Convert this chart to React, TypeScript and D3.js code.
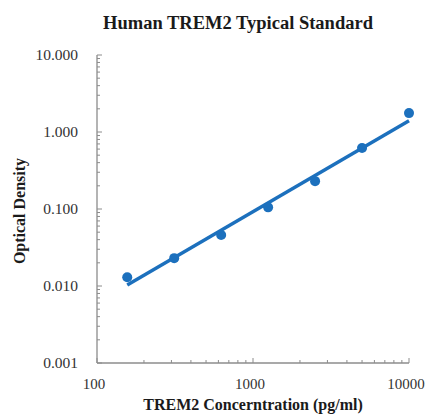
import { useEffect, useRef } from "react";
import * as d3 from "d3";

const CONCENTRATIONS = [156.25, 312.5, 625, 1250, 2500, 5000, 10000];
const OD_VALUES = [0.013, 0.023, 0.046, 0.105, 0.23, 0.62, 1.76];
const Y_TICKS = [0.001, 0.01, 0.1, 1, 10];
const X_TICKS = [100, 1000, 10000];

const BLUE = "#1c70bd";
const AXIS = "#8c8c8c";
const SERIF = "'Liberation Serif', 'Times New Roman', serif";

export default function App() {
  const svgRef = useRef<SVGSVGElement>(null);

  useEffect(() => {
    if (!svgRef.current) return;
    const width = 427;
    const height = 414;
    const margin = { top: 55, right: 18, bottom: 51, left: 97 };
    const innerW = width - margin.left - margin.right;
    const innerH = height - margin.top - margin.bottom;

    const svg = d3.select(svgRef.current);
    svg.selectAll("*").remove();

    const x = d3.scaleLog().domain([100, 10000]).range([0, innerW]);
    const y = d3.scaleLog().domain([0.001, 10]).range([innerH, 0]);

    const g = svg.append("g").attr("transform", `translate(${margin.left},${margin.top})`);

    // power trendline from log-log least squares
    const lx = CONCENTRATIONS.map(Math.log10);
    const ly = OD_VALUES.map(Math.log10);
    const mx = d3.mean(lx)!;
    const my = d3.mean(ly)!;
    const slope =
      d3.sum(lx, (v, i) => (v - mx) * (ly[i] - my)) / d3.sum(lx, (v) => (v - mx) ** 2);
    const fit = (c: number) => Math.pow(10, my + slope * (Math.log10(c) - mx));

    // minor ticks
    const yMinor: number[] = [];
    for (let e = -3; e < 1; e++) for (let k = 2; k <= 9; k++) yMinor.push(k * 10 ** e);
    const xMinor: number[] = [];
    for (let e = 2; e < 4; e++) for (let k = 2; k <= 9; k++) xMinor.push(k * 10 ** e);

    g.selectAll("line.ymin")
      .data(yMinor)
      .enter()
      .append("line")
      .attr("x1", 0)
      .attr("x2", 3)
      .attr("y1", (d) => y(d))
      .attr("y2", (d) => y(d))
      .attr("stroke", AXIS)
      .attr("stroke-width", 1);
    g.selectAll("line.ymaj")
      .data(Y_TICKS)
      .enter()
      .append("line")
      .attr("x1", 0)
      .attr("x2", 5)
      .attr("y1", (d) => y(d))
      .attr("y2", (d) => y(d))
      .attr("stroke", AXIS);
    g.selectAll("line.xmin")
      .data(xMinor)
      .enter()
      .append("line")
      .attr("x1", (d) => x(d))
      .attr("x2", (d) => x(d))
      .attr("y1", innerH)
      .attr("y2", innerH - 3)
      .attr("stroke", AXIS);
    g.selectAll("line.xmaj")
      .data(X_TICKS)
      .enter()
      .append("line")
      .attr("x1", (d) => x(d))
      .attr("x2", (d) => x(d))
      .attr("y1", innerH)
      .attr("y2", innerH - 5)
      .attr("stroke", AXIS);

    // axis lines
    g.append("line").attr("x1", 0).attr("x2", 0).attr("y1", 0).attr("y2", innerH).attr("stroke", AXIS).attr("stroke-width", 1.3);
    g.append("line").attr("x1", 0).attr("x2", innerW).attr("y1", innerH).attr("y2", innerH).attr("stroke", AXIS).attr("stroke-width", 1.3);

    // tick labels
    g.selectAll("text.ylab")
      .data(Y_TICKS)
      .enter()
      .append("text")
      .attr("x", -19)
      .attr("y", (d) => y(d))
      .attr("dy", "0.35em")
      .attr("text-anchor", "end")
      .style("font-family", SERIF)
      .style("font-size", "15.5px")
      .style("fill", "#333")
      .text((d) => d3.format(".3f")(d));
    g.selectAll("text.xlab")
      .data(X_TICKS)
      .enter()
      .append("text")
      .attr("x", (d) => x(d) - 3)
      .attr("y", innerH + 26)
      .attr("text-anchor", "middle")
      .style("font-family", SERIF)
      .style("font-size", "15px")
      .style("fill", "#333")
      .text((d) => String(d));

    // trendline
    const ends = [CONCENTRATIONS[0], CONCENTRATIONS[CONCENTRATIONS.length - 1]];
    g.append("path")
      .datum(ends)
      .attr("fill", "none")
      .attr("stroke", BLUE)
      .attr("stroke-width", 3.5)
      .attr(
        "d",
        d3
          .line<number>()
          .x((d) => x(d))
          .y((d) => y(fit(d)))
      );

    // points
    g.selectAll("circle")
      .data(CONCENTRATIONS)
      .enter()
      .append("circle")
      .attr("cx", (d) => x(d))
      .attr("cy", (d, i) => y(OD_VALUES[i]))
      .attr("r", 5)
      .attr("fill", BLUE);

    // titles
    svg
      .append("text")
      .attr("x", 238)
      .attr("y", 29)
      .attr("text-anchor", "middle")
      .style("font-family", SERIF)
      .style("font-weight", "bold")
      .style("font-size", "18.5px")
      .style("fill", "#1a1a1a")
      .text("Human TREM2 Typical Standard");
    svg
      .append("text")
      .attr("x", 253)
      .attr("y", 410)
      .attr("text-anchor", "middle")
      .style("font-family", SERIF)
      .style("font-weight", "bold")
      .style("font-size", "16px")
      .style("fill", "#1a1a1a")
      .text("TREM2 Concerntration (pg/ml)");
    svg
      .append("text")
      .attr("transform", `translate(25,${margin.top + innerH / 2 + 2}) rotate(-90)`)
      .attr("text-anchor", "middle")
      .style("font-family", SERIF)
      .style("font-weight", "bold")
      .style("font-size", "16px")
      .style("fill", "#1a1a1a")
      .text("Optical Density");
  }, []);

  return (
    <svg
      ref={svgRef}
      width={427}
      height={414}
      style={{ position: "absolute", left: 0, top: 0, background: "#fff" }}
    />
  );
}
